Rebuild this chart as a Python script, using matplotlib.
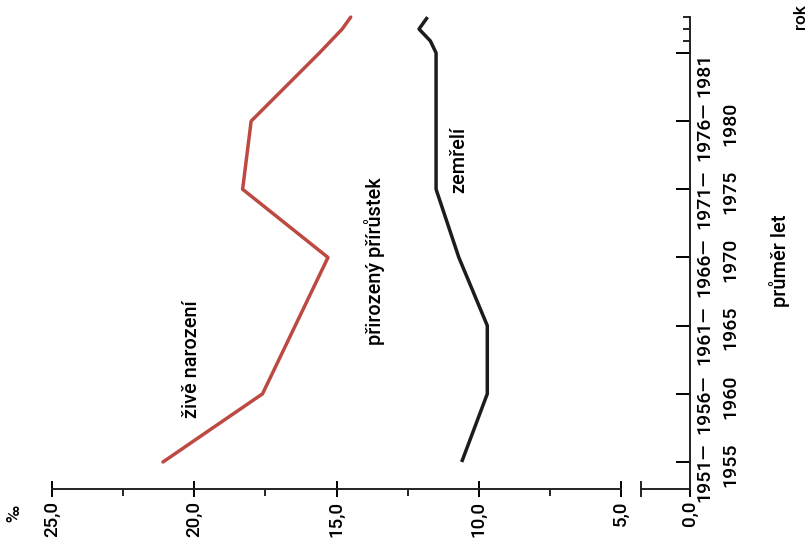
import numpy as np
import matplotlib.pyplot as plt
from matplotlib.transforms import blended_transform_factory

plt.rcParams['font.family'] = ['Roboto', 'DejaVu Sans']
plt.rcParams['font.weight'] = 'medium'

# obdobi (5leta prumery) a nasledne jednotlive roky
obdobi = ["1951—\n1955", "1956—\n1960", "1961—\n1965", "1966—\n1970",
          "1971—\n1975", "1976—\n1980"]
roky = [1981, 1982, 1983, 1984]
narozeni_obdobi = [21.1, 17.6, 16.45, 15.3, 18.3, 18.0]
narozeni_roky = [15.6, 15.2, 14.8, 14.5]
zemreli_obdobi = [10.6, 9.7, 9.7, 10.7, 11.5, 11.5]
zemreli_roky = [11.5, 11.7, 12.1, 11.8]
hodnoty = [25, 20, 15, 10, 5, 0]
hodnoty_popisky = ["25,0", "20,0", "15,0", "10,0", "5,0", "0,0"]
hodnoty_minor = [22.5, 17.5, 12.5, 7.5]


# prerusena osa: pod 5,0 je meritko stlacene
def fwd(v):
    v = np.asarray(v, dtype=float)
    return np.where(v >= 5, v, 5 - (5 - v) * 0.485)


def inv(w):
    w = np.asarray(w, dtype=float)
    return np.where(w >= 5, w, 5 - (5 - w) / 0.485)


poz_obdobi = np.arange(len(obdobi))
poz_roky = len(obdobi) + (np.array(roky) - 1981) * 0.175
poz = np.concatenate([poz_obdobi, poz_roky])
narozeni = narozeni_obdobi + narozeni_roky
zemreli = zemreli_obdobi + zemreli_roky

fig = plt.figure(figsize=(8.11, 5.42), dpi=100)
ax = fig.add_axes([52 / 811, 53 / 542, 638 / 811, 477 / 542])
ax.set_xscale('function', functions=(fwd, inv))
ax.set_xlim(25, 0)
y_dole = -0.396
ax.set_ylim(y_dole, 6.6)

cervena = '#bd4a42'
cerna = '#1c1c1c'
ax.plot(narozeni, poz, color=cervena, lw=2.5, solid_capstyle='round', clip_on=False)
ax.plot(zemreli, poz, color=cerna, lw=2.5, solid_capstyle='butt', clip_on=False)

# osy
for s in ['top', 'left']:
    ax.spines[s].set_visible(False)
ax.spines['bottom'].set_bounds(5, 25)
ax.spines['right'].set_bounds(y_dole, poz_roky[-1])
for s in ['bottom', 'right']:
    ax.spines[s].set_linewidth(1.4)
    ax.spines[s].set_color('#222222')
ax.plot([3.55, 0], [y_dole, y_dole], color='#222222', lw=1.4, clip_on=False)
ax.plot([3.55], [y_dole], marker='|', ms=11, mew=1.4, color='#222222', clip_on=False)

ax.set_xticks(hodnoty)
ax.set_xticklabels(hodnoty_popisky, rotation=90, fontsize=13.5)
ax.set_xticks(hodnoty_minor, minor=True)
ax.tick_params(axis='x', which='major', direction='inout', length=11, width=1.4, pad=3)
ax.tick_params(axis='x', which='minor', direction='out', length=5, width=1.2)

ax.yaxis.tick_right()
ax.set_yticks(list(poz_obdobi) + [poz_roky[0]])
ax.set_yticklabels([])
ax.set_yticks(poz_roky[1:], minor=True)
ax.tick_params(axis='y', which='major', direction='in', length=10, width=1.4)
ax.tick_params(axis='y', which='minor', direction='in', length=5, width=1.2)

# popisky obdobi vpravo od osy
tr = blended_transform_factory(ax.transAxes, ax.transData)
for p, lab in zip(poz_obdobi, obdobi):
    ax.text(1.008, p + 0.29, lab, transform=tr, rotation=90, ha='left', va='top',
            multialignment='right', linespacing=1.6, fontsize=14)
ax.text(1.008, poz_roky[0], str(roky[0]), transform=tr, rotation=90, ha='left',
        va='top', fontsize=14)

# popisky krivek
ax.text(20.1, 1.51, "živě narození", rotation=90, ha='center', va='center', fontsize=14.3)
ax.text(13.65, 2.95, "přirozený přírůstek", rotation=90, ha='center', va='center',
        fontsize=14.3)
ax.text(10.7, 4.43, "zemřelí", rotation=90, ha='center', va='center', fontsize=14.3)

fig.text(779 / 811, 1 - 261 / 542, "průměr let", rotation=90, ha='center', va='center',
         fontsize=14.5)
fig.text(801 / 811, 1 - 17 / 542, "rok", rotation=90, ha='center', va='center',
         fontsize=12.5)
fig.text(14 / 811, 1 - 513 / 542, "‰", rotation=90, ha='center', va='center',
         fontsize=13)

fig.savefig('out.png', dpi=100, facecolor='white')
